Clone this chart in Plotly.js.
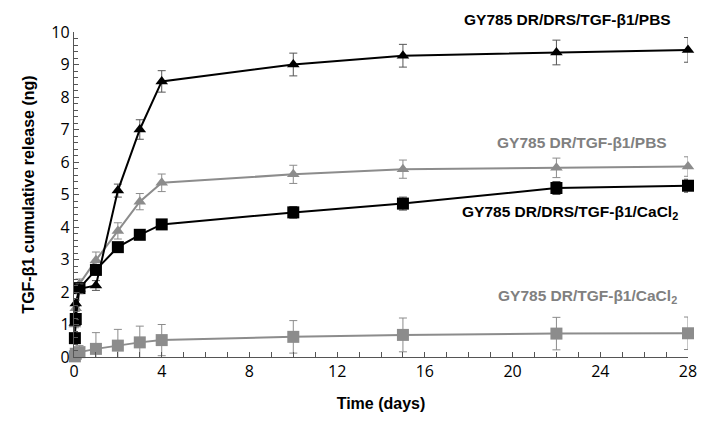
<!DOCTYPE html>
<html><head><meta charset="utf-8">
<script src="https://cdn.plot.ly/plotly-3.0.1.min.js"></script>
<style>html,body{margin:0;padding:0;background:#fff}#chart{width:714px;height:432px}</style>
</head><body><div id="chart"></div>
<script>
const days = [0.04, 0.08, 0.25, 1, 2, 3, 4, 10, 15, 22, 28];
const drsPBS = [1.05, 1.65, 2.1, 2.2, 5.12, 7.0, 8.48, 9.0, 9.27, 9.37, 9.45];
const drsPBSerr = [0.1, 0.1, 0.15, 0.15, 0.2, 0.3, 0.33, 0.35, 0.35, 0.38, 0.38];
const drPBS = [1.0, 1.5, 2.25, 2.98, 3.88, 4.78, 5.36, 5.62, 5.78, 5.82, 5.86];
const drPBSerr = [0.1, 0.1, 0.15, 0.25, 0.25, 0.25, 0.27, 0.28, 0.28, 0.3, 0.3];
const drsCa = [0.58, 1.17, 2.12, 2.68, 3.38, 3.76, 4.08, 4.45, 4.72, 5.2, 5.27];
const drsCaErr = [0.05, 0.05, 0.1, 0.15, 0.1, 0.1, 0.12, 0.18, 0.2, 0.2, 0.2];
const drCa = [0.02, 0.1, 0.15, 0.25, 0.35, 0.45, 0.52, 0.62, 0.68, 0.72, 0.73];
const drCaErr = [0.05, 0.1, 0.2, 0.5, 0.5, 0.5, 0.48, 0.5, 0.52, 0.5, 0.5];
const xTicks = [0, 4, 8, 12, 16, 20, 24, 28];
const yTicks = [0,1,2,3,4,5,6,7,8,9,10];

const black = '#000000', gray = '#8c8c8c';
function tr(y, err, color, sym, ecol){
  return {x: days, y: y, type:'scatter', mode:'lines+markers', cliponaxis:false,
    line:{color:color, width:2},
    marker:{symbol:sym, size:sym==='square'?12:11, color:color},
    error_y:{type:'data', array:err, visible:true, color:ecol, thickness:1, width:4}};
}
const data = [
  tr(drCa, drCaErr, gray, 'square', '#8c8c8c'),
  tr(drPBS, drPBSerr, gray, 'triangle-up', '#8c8c8c'),
  tr(drsCa, drsCaErr, black, 'square', '#555555'),
  tr(drsPBS, drsPBSerr, black, 'triangle-up', '#555555')
];
const fam = 'Liberation Sans, Arial, sans-serif';
const tickFam = 'Open Sans, Liberation Sans, sans-serif';
function ann(x, y, text, color){
  return {x:x, y:y, xref:'paper', yref:'paper', xanchor:'center', yanchor:'middle',
    text:'<b>'+text+'</b>', showarrow:false, font:{size:15.5, color:color}};
}
const layout = {
  width:714, height:432, showlegend:false,
  margin:{l:74, r:26, t:32, b:75},
  paper_bgcolor:'#fff', plot_bgcolor:'#fff',
  font:{family:fam, color:'#000'},
  xaxis:{range:[0,28], tickvals:xTicks, ticktext:xTicks.map(String), showgrid:false, zeroline:false,
    showline:true, linecolor:'#555', linewidth:1.2, ticks:'inside', ticklen:5, tickcolor:'#555',
    minor:{dtick:1, tick0:0, ticks:'inside', ticklen:5, tickcolor:'#555'},
    tickfont:{size:16, family:tickFam},
    title:{text:'<b>Time (days)</b>', font:{size:16}, standoff:16}},
  yaxis:{range:[0,10], tickvals:yTicks, showgrid:false, zeroline:false,
    showline:true, linecolor:'#555', linewidth:1.2, ticks:'inside', ticklen:5, tickcolor:'#555',
    minor:{dtick:0.2, tick0:0, ticks:'inside', ticklen:4, tickcolor:'#555'},
    tickfont:{size:16, family:tickFam},
    title:{text:'<b>TGF-β1 cumulative release (ng)</b>', font:{size:16}, standoff:12}},
  annotations:[
    ann(0.803, 1.037, 'GY785 DR/DRS/TGF-β1/PBS', black),
    ann(0.828, 0.66, 'GY785 DR/TGF-β1/PBS', '#808080'),
    ann(0.808, 0.446, 'GY785 DR/DRS/TGF-β1/CaCl<sub>2</sub>', black),
    ann(0.836, 0.185, 'GY785 DR/TGF-β1/CaCl<sub>2</sub>', '#808080')
  ]
};
Plotly.newPlot('chart', data, layout, {staticPlot:true, displayModeBar:false});
</script></body></html>
